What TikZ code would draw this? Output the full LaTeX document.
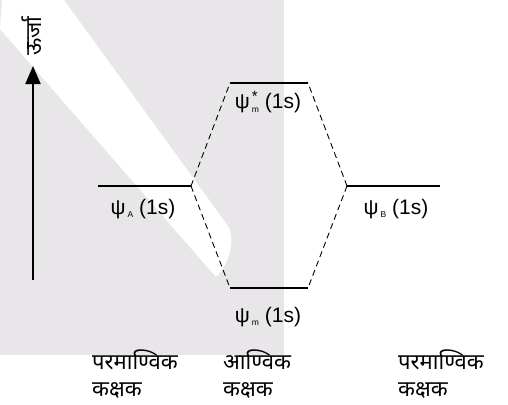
\documentclass[tikz,border=0pt]{standalone}
\usepackage{fontspec}
\setmainfont{Liberation Sans}
\newfontfamily\devfont[Script=Devanagari]{Noto Sans}
\usetikzlibrary{arrows.meta, positioning}
\definecolor{wmgray}{RGB}{232, 230, 232}

\newcommand{\psisub}[1]{ψ\kern2pt\raisebox{-0.3ex}{\fontsize{8.5}{8.5}\selectfont #1}}
\newcommand{\psistar}{ψ\kern2pt\rlap{\raisebox{0.7ex}{\fontsize{15}{15}\selectfont *}}\raisebox{-0.3ex}{\fontsize{8.5}{8.5}\selectfont m}}

\begin{document}
\begin{tikzpicture}[x=1pt, y=-1pt,
    level/.style={line width=1.2pt},
    link/.style={line width=0.9pt, dash pattern=on 6pt off 4pt},
    orblabel/.style={font=\fontsize{21}{24}\selectfont, inner sep=0pt},
    kind/.style={font=\devfont\fontsize{22}{27}\selectfont, align=left, anchor=base west, inner sep=0pt}
]
    \useasboundingbox (0,0) rectangle (508,404);
    % Background
    \fill[wmgray] (0,0) rectangle (284,355);
    \fill[white] (2,0) -- (64,0) -- (228,226) .. controls (235,238) and (231,262) .. (216,277) -- (0,29) -- cycle;

    % Energy axis
    \coordinate (elow) at (33,280);
    \coordinate (ehigh) at (33,66);
    \draw[-{Triangle[length=18pt,width=15pt]}, line width=2pt] (elow) -- (ehigh);
    \node[rotate=90, font=\devfont\fontsize{22}{22}\selectfont, inner sep=0pt] (energy) at (32,36) {ऊर्जा};

    % Levels
    \coordinate (a1) at (98,186);   \coordinate (a2) at (191,186);
    \coordinate (b1) at (347,186);  \coordinate (b2) at (440,186);
    \coordinate (s1) at (230,83);   \coordinate (s2) at (308,83);
    \coordinate (m1) at (230,288);  \coordinate (m2) at (308,288);
    \draw[level] (a1) -- (a2);
    \draw[level] (b1) -- (b2);
    \draw[level] (s1) -- (s2);
    \draw[level] (m1) -- (m2);

    % Correlation lines
    \draw[link] (a2) -- (s1);
    \draw[link] (a2) -- (m1);
    \draw[link] (b1) -- (s2);
    \draw[link] (b1) -- (m2);

    % Level labels
    \node[orblabel] (lblA) at (143,209) {\psisub{A} (1s)};
    \node[orblabel] (lblB) at (396,209) {\psisub{B} (1s)};
    \node[orblabel] (lblS) at (268,102) {\psistar\ (1s)};
    \node[orblabel] (lblM) at (268,317) {\psisub{m} (1s)};

    % Column titles
    \node[kind] (colL) at (92,396) {परमाण्विक\\कक्षक};
    \node[kind] (colM) at (223,396) {आण्विक\\कक्षक};
    \node[kind] (colR) at (398,396) {परमाण्विक\\कक्षक};
\end{tikzpicture}
\end{document}
